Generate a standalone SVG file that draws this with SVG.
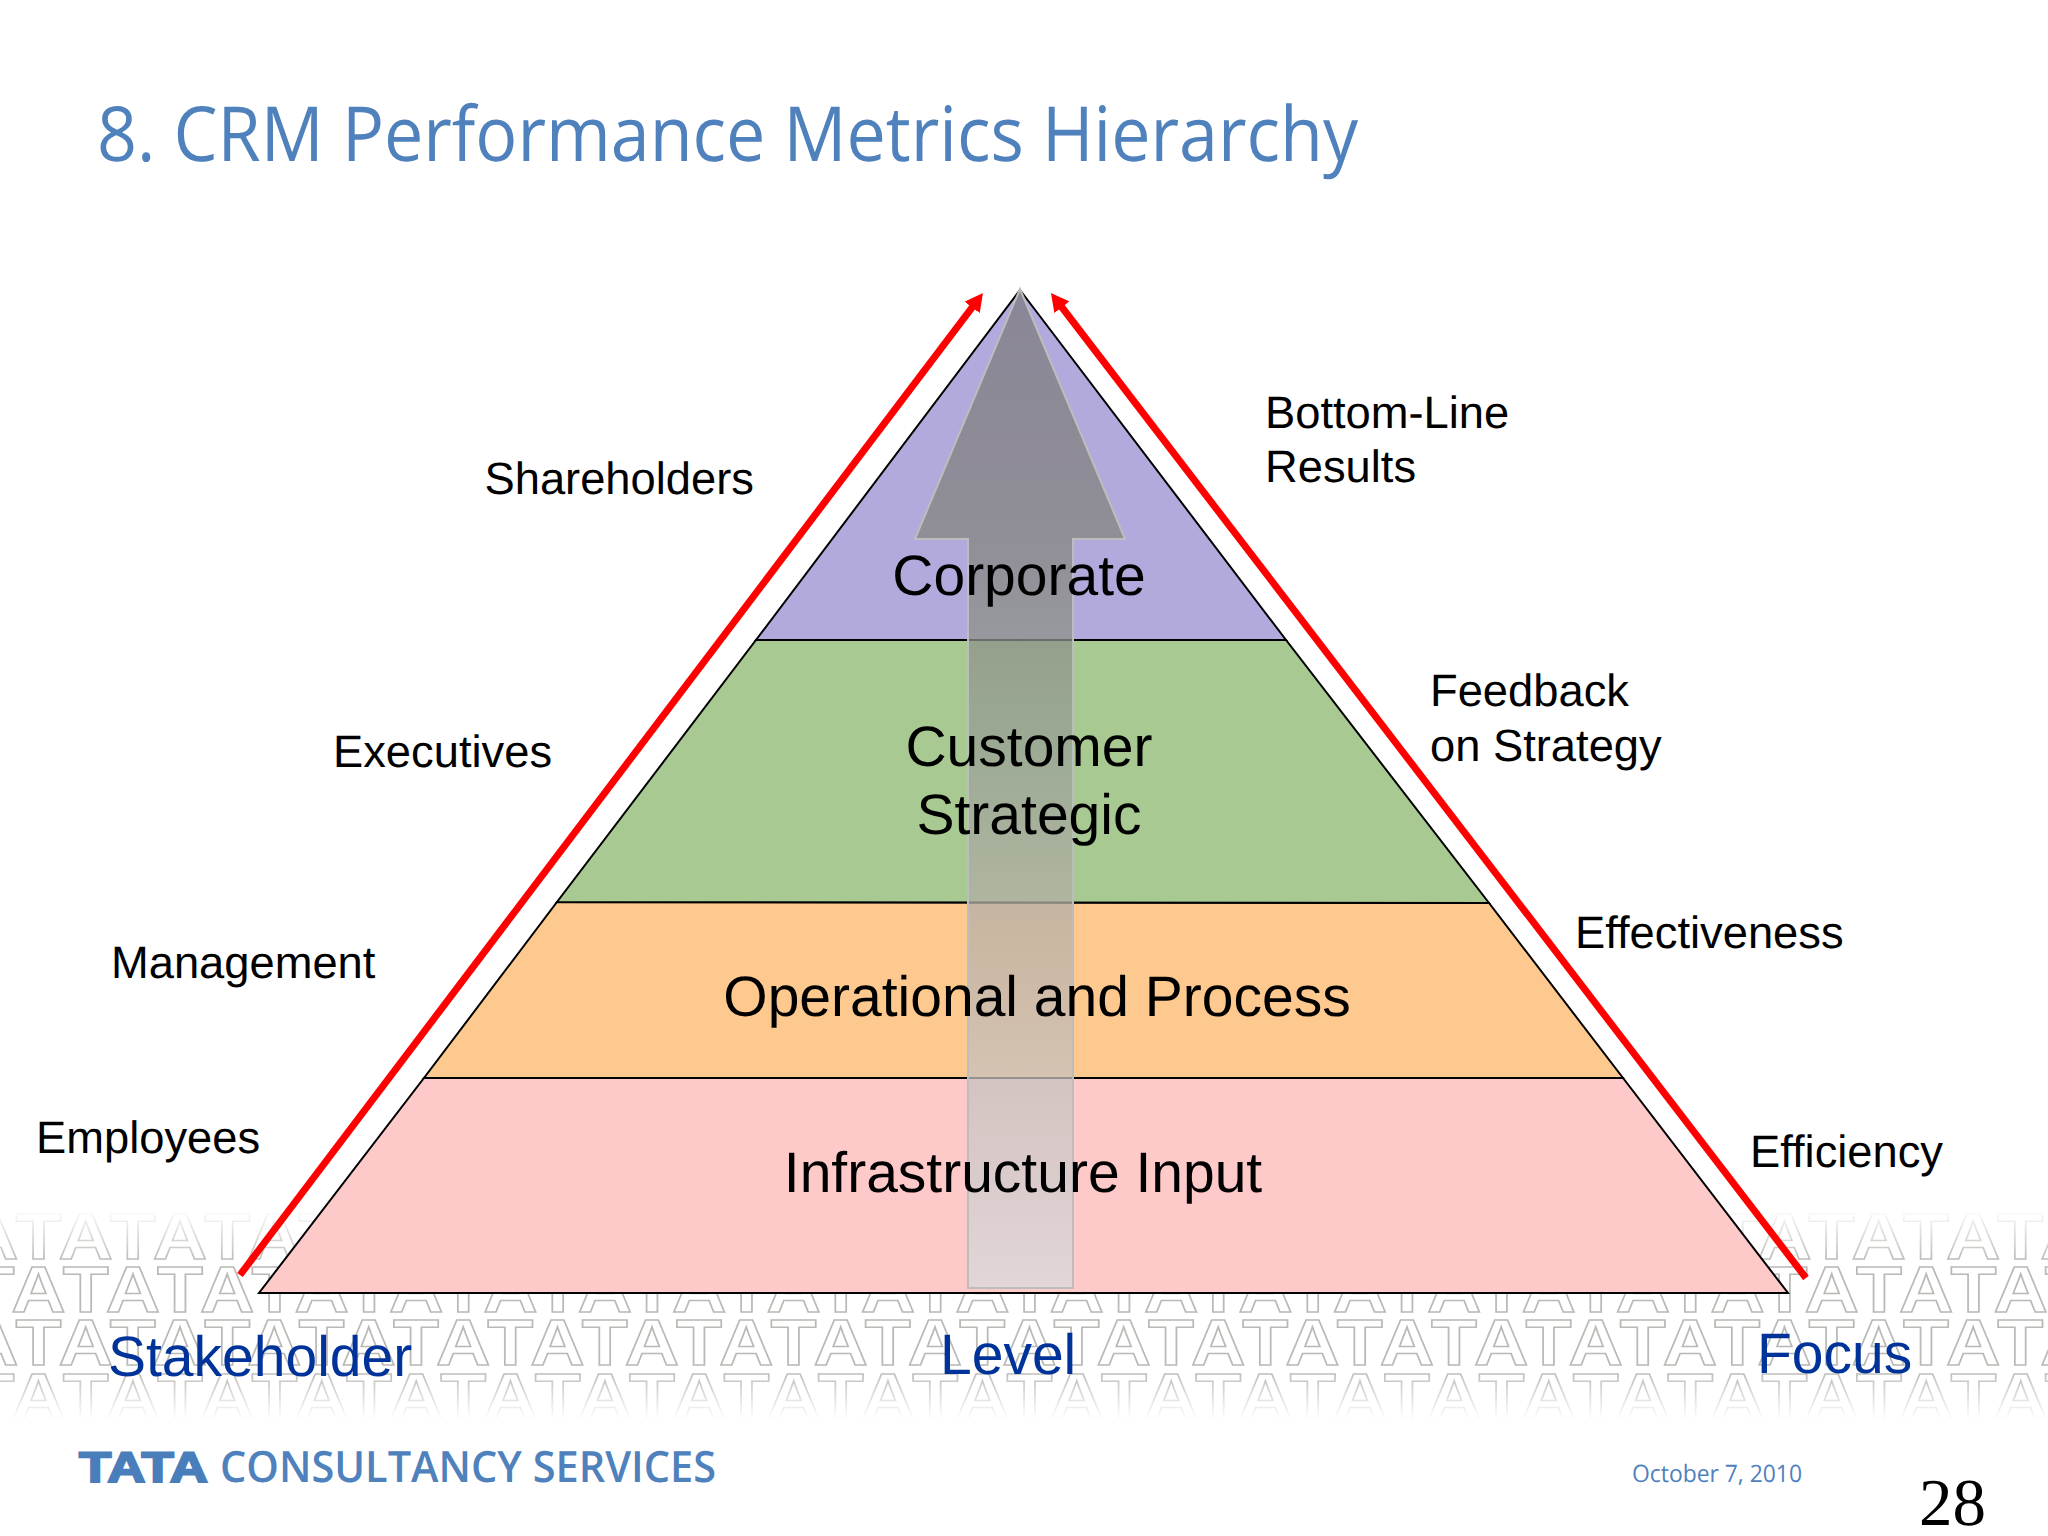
<svg xmlns="http://www.w3.org/2000/svg" width="2048" height="1536" viewBox="0 0 2048 1536">
<style>
text{text-rendering:geometricPrecision}
.wm{font-family:"Liberation Sans",Arial,sans-serif;font-weight:700;font-size:65.5px;font-kerning:none;fill:none;stroke:#b9b9b5;stroke-width:1.5px}
.lab{font-family:"Liberation Sans",Arial,sans-serif;font-size:45.3px;fill:#000}
.lev{font-family:"Liberation Sans",Arial,sans-serif;font-size:57px;fill:#000;text-anchor:middle}
.axis{font-family:"Liberation Sans",Arial,sans-serif;font-size:57px;fill:#003399}
.tier{stroke:#000;stroke-width:2;stroke-linejoin:miter}
.red{fill:none;stroke:#f00;stroke-width:7}
.myr{font-family:"Open Sans","Noto Sans",sans-serif;fill:#4f81bd}
</style>
<defs>
<linearGradient id="fade" gradientUnits="userSpaceOnUse" x1="0" y1="1208" x2="0" y2="1420">
<stop offset="0" stop-color="#fff" stop-opacity="0"/>
<stop offset="0.26" stop-color="#fff" stop-opacity="1"/>
<stop offset="0.76" stop-color="#fff" stop-opacity="1"/>
<stop offset="1" stop-color="#fff" stop-opacity="0"/>
</linearGradient>
<mask id="wmMask" maskUnits="userSpaceOnUse" x="0" y="1200" width="2048" height="230"><rect x="0" y="1200" width="2048" height="230" fill="url(#fade)"/></mask>
<linearGradient id="up" gradientUnits="userSpaceOnUse" x1="0" y1="289" x2="0" y2="1289">
<stop offset="0" stop-color="#7d7a81"/>
<stop offset="0.25" stop-color="#85857f"/>
<stop offset="0.46" stop-color="#98a096"/>
<stop offset="0.66" stop-color="#bab2aa"/>
<stop offset="1" stop-color="#d9dadd"/>
</linearGradient>
<marker id="head" markerUnits="userSpaceOnUse" markerWidth="20" markerHeight="20" refX="1" refY="10" orient="auto">
<path d="M0 0.5L18 10L0 19.5Z" fill="#f00"/>
</marker>
</defs>
<rect width="2048" height="1536" fill="#fff"/>
<g id="watermark" mask="url(#wmMask)" transform="scale(1.15,1)">
<text class="wm" x="-31.3" y="1259" textLength="2054.3" lengthAdjust="spacing">ATATATATATATATATATATATATATATATATATATATATATATATATAT</text>
<text class="wm" x="-72.2" y="1312" textLength="2136.5" lengthAdjust="spacing">ATATATATATATATATATATATATATATATATATATATATATATATATATAT</text>
<text class="wm" x="-31.3" y="1365" textLength="2054.3" lengthAdjust="spacing">ATATATATATATATATATATATATATATATATATATATATATATATATAT</text>
<text class="wm" x="-72.2" y="1419" textLength="2136.5" lengthAdjust="spacing">ATATATATATATATATATATATATATATATATATATATATATATATATATAT</text>
</g>
<g id="title"><text class="myr" x="97" y="161" font-size="76" textLength="1261" lengthAdjust="spacingAndGlyphs">8. CRM Performance Metrics Hierarchy</text></g>
<g id="tier-infrastructure"><polygon class="tier" points="424,1078 1623,1078 1788,1293 259,1293" fill="#fdc9c9"/></g>
<g id="tier-operational"><polygon class="tier" points="557,902 1489,903 1623,1078 424,1078" fill="#fdc98f"/></g>
<g id="tier-customer"><polygon class="tier" points="756,640 1286,640 1489,903 557,902" fill="#a8c992"/></g>
<g id="tier-corporate"><polygon class="tier" points="1020,290 1286,640 756,640" fill="#b2aadc"/></g>
<g id="up-arrow"><polygon points="1020,289 1125,539 1073,539 1073,1288 968,1288 968,539 915,539" fill="url(#up)" fill-opacity="0.75" stroke="#bdbdbd" stroke-width="2"/></g>
<g id="tier-labels">
<text class="lev" x="1019" y="595">Corporate</text>
<text class="lev" x="1029" y="766">Customer</text>
<text class="lev" x="1029" y="834">Strategic</text>
<text class="lev" x="1037" y="1016">Operational and Process</text>
<text class="lev" x="1023" y="1192">Infrastructure Input</text>
</g>
<g id="connectors">
<line class="red" x1="240" y1="1275" x2="972.7" y2="306.6" marker-end="url(#head)"/>
<line class="red" x1="1806" y1="1278" x2="1061.3" y2="306.5" marker-end="url(#head)"/>
</g>
<g id="stakeholders">
<text class="lab" x="484.5" y="494">Shareholders</text>
<text class="lab" x="333" y="767">Executives</text>
<text class="lab" x="111" y="978">Management</text>
<text class="lab" x="36" y="1153">Employees</text>
</g>
<g id="focus">
<text class="lab" x="1265" y="428">Bottom-Line</text>
<text class="lab" x="1265" y="482">Results</text>
<text class="lab" x="1430" y="706">Feedback</text>
<text class="lab" x="1430" y="761">on Strategy</text>
<text class="lab" x="1575" y="948">Effectiveness</text>
<text class="lab" x="1750" y="1167">Efficiency</text>
</g>
<g id="axis-labels">
<text class="axis" x="108" y="1376">Stakeholder</text>
<text class="axis" x="940" y="1374">Level</text>
<text class="axis" x="1757" y="1373">Focus</text>
</g>
<g id="footer">
<text x="79" y="1482" font-family="Liberation Sans, Arial, sans-serif" font-weight="700" font-size="43" fill="#4a7ebb" stroke="#4a7ebb" stroke-width="2" textLength="129" lengthAdjust="spacingAndGlyphs">TATA</text>
<text class="myr" x="220" y="1482" font-size="43" font-weight="600" textLength="496" lengthAdjust="spacingAndGlyphs">CONSULTANCY SERVICES</text>
<text class="myr" x="1632" y="1482" font-size="24" textLength="170" lengthAdjust="spacingAndGlyphs">October 7, 2010</text>
<text x="1919" y="1525" font-family="Liberation Serif, Times New Roman, serif" font-size="67" fill="#000">28</text>
</g>
</svg>
